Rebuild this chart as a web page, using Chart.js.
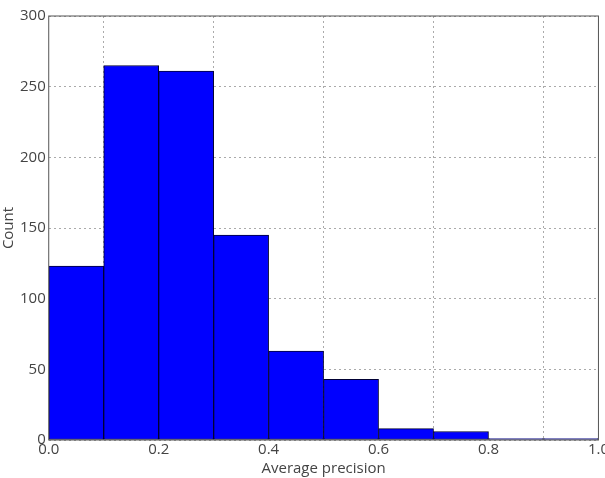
<!DOCTYPE html>
<html>
<head>
<meta charset="utf-8">
<script src="https://cdn.jsdelivr.net/npm/chart.js@4/dist/chart.umd.min.js"></script>
<style>
  html, body { margin: 0; padding: 0; background: #fff; overflow: hidden; }
  #wrap { width: 610px; height: 478px; }
</style>
</head>
<body>
<div id="wrap"><canvas id="histChart" width="610" height="478"></canvas></div>
<script>
// histogram bin edges and counts
const binEdges = [0.0, 0.1, 0.2, 0.3, 0.4, 0.5, 0.6, 0.7, 0.8, 0.9, 1.0];
const counts = [123, 265, 261, 145, 63, 43, 8, 6, 1, 1];
const xTicks = [0.0, 0.2, 0.4, 0.6, 0.8, 1.0];
const yTicks = [0, 50, 100, 150, 200, 250, 300];

const points = counts.map((c, i) => ({ x: (binEdges[i] + binEdges[i + 1]) / 2, y: c }));

const frame = {
  id: "frame",
  afterDraw(chart) {
    const { ctx, chartArea: a } = chart;
    ctx.save();
    ctx.strokeStyle = "#555";
    ctx.lineWidth = 1;
    ctx.strokeRect(a.left, a.top, a.right - a.left, a.bottom - a.top);
    ctx.restore();
  }
};

const font = { family: "Open Sans", size: 15 };

new Chart(document.getElementById("histChart").getContext("2d"), {
  type: "bar",
  data: {
    datasets: [{
      data: points,
      backgroundColor: "#0000ff",
      borderColor: "#000033",
      borderWidth: 1,
      borderSkipped: false,
      barPercentage: 1,
      categoryPercentage: 1
    }]
  },
  options: {
    responsive: false,
    animation: false,
    layout: { padding: { top: 16, right: 0, left: 0, bottom: 0 } },
    plugins: { legend: { display: false }, tooltip: { enabled: false } },
    scales: {
      x: {
        type: "linear",
        offset: false,
        min: binEdges[0],
        max: binEdges[binEdges.length - 1],
        afterBuildTicks: s => { s.ticks = xTicks.map(v => ({ value: v })); },
        ticks: { color: "#444", font, padding: 1, maxRotation: 0, callback: v => v.toFixed(1) },
        grid: { color: "#aaa", drawTicks: false },
        border: { display: false, dash: [2, 3] },
        title: { display: true, text: "Average precision", color: "#444", font, padding: { top: 0, bottom: 0 } }
      },
      y: {
        min: 0,
        max: 300,
        afterBuildTicks: s => { s.ticks = yTicks.map(v => ({ value: v })); },
        ticks: { color: "#444", font, padding: 3 },
        grid: { color: "#aaa", drawTicks: false },
        border: { display: false, dash: [2, 3] },
        title: { display: true, text: "Count", color: "#444", font, padding: { top: 0, bottom: -1 } }
      }
    }
  },
  plugins: [frame]
});
</script>
</body>
</html>
